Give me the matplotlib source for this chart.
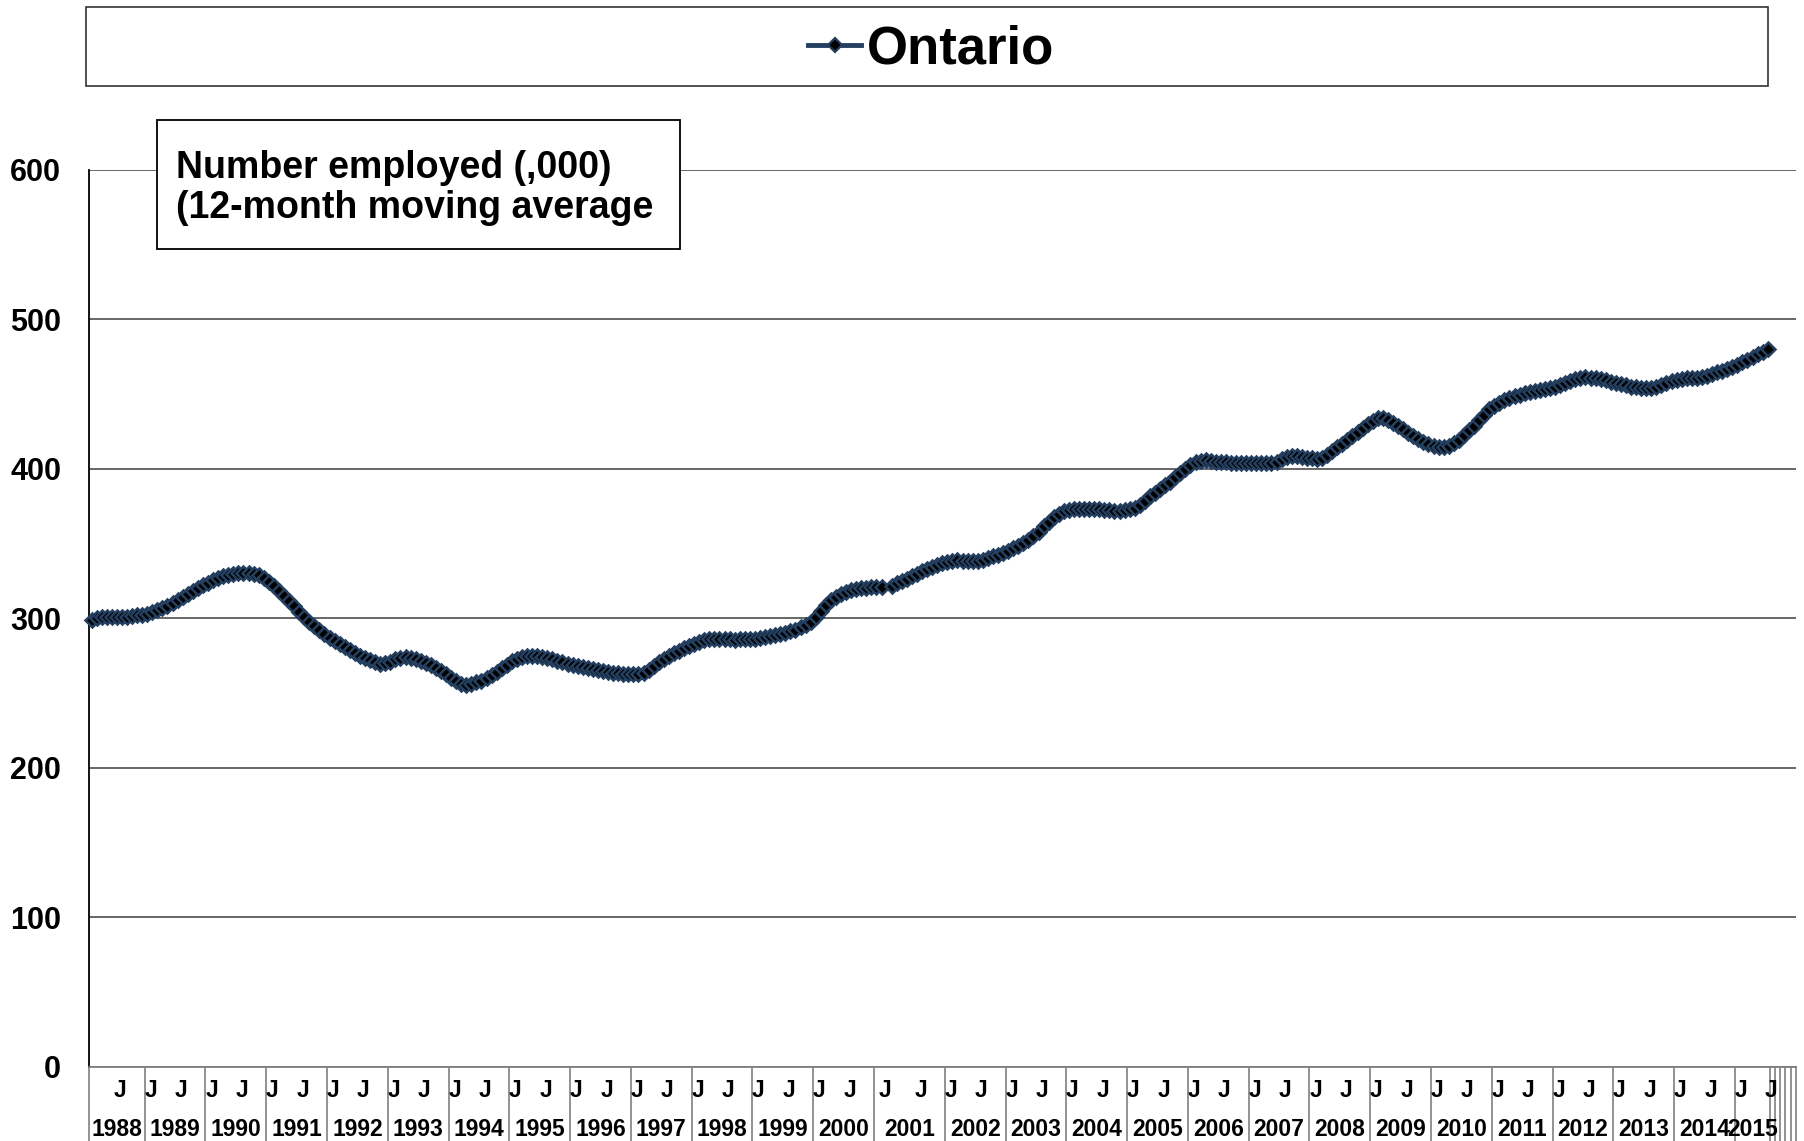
import numpy as np
import matplotlib
matplotlib.use("Agg")
import matplotlib.pyplot as plt
from matplotlib.patches import Rectangle
from matplotlib.lines import Line2D
import matplotlib.transforms as mtransforms

plt.rcParams['font.family'] = ['Liberation Sans', 'DejaVu Sans']
plt.rcParams['font.weight'] = 'bold'

# ---------------- data ----------------
MONTHS = ["Jan", "Feb", "Mar", "Apr", "May", "Jun",
          "Jul", "Aug", "Sep", "Oct", "Nov", "Dec"]

group_labels = ["1988", "1989", "1990", "1991", "1992", "1993", "1994",
                "1995", "1996", "1997", "1998", "1999", "2000", "2001",
                "2002", "2003", "2004", "2005", "2006", "2007", "2008",
                "2009", "2010", "2011", "2012", "2013", "2014", "2015",
                "", "", "", "", ""]

group_months = ([MONTHS[1:]] + [MONTHS] * 12 +
                [["", "Jan", ""] + MONTHS[1:]] +
                [MONTHS] * 13 + [MONTHS[:7]] + [[""]] * 5)

shown_month_letter = {"Jan": "J", "Jul": "J"}

# Number employed (,000), 12-month moving average, one value per category
ontario = [
    # 1988 (Feb-Dec)
    299, 300, 301, 301, 301, 301, 301, 301, 301.5, 302, 302,
    # 1989
    303, 304, 305.5, 307, 308.5, 310, 312, 314, 316, 318.3, 320.5, 322.3,
    # 1990
    323.8, 325.5, 327, 328.3, 329.2, 329.8, 330.2, 330.4, 330.2, 329.7, 328.8, 327,
    # 1991
    324.5, 321.8, 318.5, 315, 311.8, 308, 304.5, 301, 297.8, 294.8, 292, 289.5,
    # 1992
    287, 284.5, 282.5, 280.5, 278.6, 276.8, 275, 273.5, 272, 270.8, 269.7, 269.8,
    # 1993
    271, 272.5, 273.5, 274, 273.5, 272.5, 271.5, 270, 268.5, 266.8, 264.5, 262.5,
    # 1994
    260.3, 258, 256, 255.3, 256, 257, 258.2, 260, 262, 264, 266.5, 269,
    # 1995
    271.5, 273, 274, 275, 275, 274.7, 274.2, 273.5, 272.5, 271.5, 270.5, 269.5,
    # 1996
    268.8, 268.2, 267.6, 267, 266.3, 265.5, 264.8, 264, 263.5, 263.2, 263, 262.8,
    # 1997
    262.8, 262.8, 263.5, 265.5, 268, 270.5, 272.5, 274.7, 276.5, 278.3, 280, 281.5,
    # 1998
    283, 284.3, 285.5, 286, 286.2, 286.1, 286, 285.8, 285.6, 285.8, 286, 286.2,
    # 1999
    286.4, 286.6, 287.2, 287.8, 288.5, 289.2, 290.2, 291.2, 292.4, 294, 295.5, 297.5,
    # 2000
    301, 305, 309, 312, 314.5, 316.2, 317.5, 318.6, 319.4, 320, 320.5, 320.8,
    # 2001 (with one missing entry)
    321, 321.2, None, 321.8, 323.5, 325, 326.5, 328, 329.7, 331.5, 333.2, 334.6, 335.8, 337,
    # 2002
    337.8, 338.4, 338.7, 338.6, 338.3, 338.1, 338.5, 339.2, 340.2, 341.4, 342.6, 344,
    # 2003
    345.2, 346.8, 348.5, 350.3, 352.5, 355, 358, 361.5, 364.5, 367.5, 370, 371.8,
    # 2004
    372.6, 373, 373.2, 373.2, 373, 373, 372.8, 372.5, 372.2, 372, 372, 372.3,
    # 2005
    373, 374, 375.8, 378.5, 381.5, 384, 386.5, 389, 391.5, 394.5, 397.5, 400.2,
    # 2006
    402.5, 404.3, 405.4, 405.8, 405.3, 404.8, 404.5, 404.3, 404.2, 404.2, 404.1, 404,
    # 2007
    403.8, 403.6, 403.6, 403.8, 404.1, 404.8, 406.3, 407.8, 408.7, 408.5, 408, 407.5,
    # 2008
    407, 406.5, 407.5, 409.5, 411.8, 414.3, 416.8, 419.3, 422, 424.5, 427.2, 430,
    # 2009
    432.3, 433.8, 434, 432.8, 431, 428.8, 426.5, 424, 422, 420, 418.2, 416.8,
    # 2010
    415.5, 414.8, 414.3, 415, 417, 419.5, 422.5, 425.8, 429, 432.5, 436.3, 440,
    # 2011
    442.3, 444.3, 446, 447.3, 448.5, 449.5, 450.5, 451.5, 452.2, 452.8, 453.3, 454,
    # 2012
    455, 456.3, 457.5, 458.8, 460, 461, 461.2, 461, 460.6, 460, 459.2, 458.3,
    # 2013
    457.5, 456.6, 455.8, 455, 454.5, 454, 453.8, 454, 455, 456.3, 457.5, 458.5,
    # 2014
    459.5, 460.3, 460.6, 460.8, 461, 461.5, 462.3, 463.3, 464.5, 465.8, 467, 468.3,
    # 2015 (Jan-Jul)
    469.8, 471.3, 473, 474.8, 476.6, 478.3, 480,
]

y_ticks = [0, 100, 200, 300, 400, 500, 600]
series_name = "Ontario"
box_text = "Number employed (,000)\n(12-month moving average"

# ---------------- build category structure ----------------
n_cat = sum(len(m) for m in group_months)
values = np.full(n_cat, np.nan)
for i, v in enumerate(ontario):
    if v is not None:
        values[i] = v
x = np.arange(n_cat) + 0.5

# ---------------- figure ----------------
W, H = 1804, 1141
fig = plt.figure(figsize=(W / 100, H / 100), dpi=100)
ax_left, ax_right, ax_top, ax_bottom = 89, 1795.6, 170, 1066.5
ax = fig.add_axes([ax_left / W, 1 - ax_bottom / H,
                   (ax_right - ax_left) / W, (ax_bottom - ax_top) / H])

ax.set_xlim(0, n_cat)
ax.set_ylim(0, 600)
ax.set_yticks(y_ticks)
ax.set_yticklabels([str(t) for t in y_ticks], fontsize=22, fontweight='bold')
ax.tick_params(axis='y', length=0, pad=20)
ax.set_xticks([])
ax.grid(axis='y', color='#666666', linewidth=1.4)
ax.set_axisbelow(True)
for s in ['top', 'right']:
    ax.spines[s].set_visible(False)
ax.spines['left'].set_color('black')
ax.spines['left'].set_linewidth(1.3)
ax.spines['bottom'].set_color('#808080')
ax.spines['bottom'].set_linewidth(1.3)

line_color = '#243F60'
ax.plot(x, values, color=line_color, linewidth=2.4, marker='D',
        markersize=6.8, markerfacecolor='black', markeredgecolor=line_color,
        markeredgewidth=1.8, zorder=3, clip_on=False)

# ---------------- multi-level category axis ----------------
trans = mtransforms.blended_transform_factory(ax.transData, ax.transAxes)
ax_h = ax_bottom - ax_top
y_low = -(H - ax_bottom) / ax_h
y_month = -24 / ax_h
y_year = -63 / ax_h

pos = 0
boundaries = [0]
for lab, months in zip(group_labels, group_months):
    n = len(months)
    for j, m in enumerate(months):
        letter = shown_month_letter.get(m, "")
        if letter:
            ax.text(pos + j + 0.5 + 0.7, y_month, letter, transform=trans,
                    ha='center', va='center', fontsize=16.5, fontweight='bold',
                    clip_on=False)
    if lab:
        ax.text(pos + n / 2, y_year, lab, transform=trans, ha='center',
                va='center', fontsize=16.5, fontweight='bold', clip_on=False)
    pos += n
    boundaries.append(pos)

for b in boundaries:
    ax.add_line(Line2D([b, b], [0, y_low], transform=trans, color='#808080',
                       linewidth=1.2, clip_on=False))

# ---------------- legend box ----------------
fig.patches.append(Rectangle((86 / W, 1 - 86 / H), (1768 - 86) / W, 79 / H,
                             transform=fig.transFigure, facecolor='white',
                             edgecolor='#333333', linewidth=1.2))
handle = Line2D([], [], color=line_color, linewidth=3.5, marker='D',
                markersize=7.5, markerfacecolor='black',
                markeredgecolor=line_color, markeredgewidth=1.6)
leg = fig.legend([handle], [series_name], loc='center',
                 bbox_to_anchor=(931 / W, 1 - 49 / H), frameon=False,
                 prop={'size': 38, 'weight': 'bold'}, handlelength=1.0,
                 handletextpad=0.1, borderpad=0)

# ---------------- annotation box ----------------
fig.patches.append(Rectangle((156.5 / W, 1 - 248.5 / H), (680 - 156.5) / W,
                             (248.5 - 119.6) / H, transform=fig.transFigure,
                             facecolor='white', edgecolor='black',
                             linewidth=1.3, zorder=2))
fig.text(176 / W, 1 - 188 / H, box_text, ha='left', va='center',
         fontsize=27, fontweight='bold', linespacing=1.12, zorder=4)

fig.savefig("out.png", dpi=100)
